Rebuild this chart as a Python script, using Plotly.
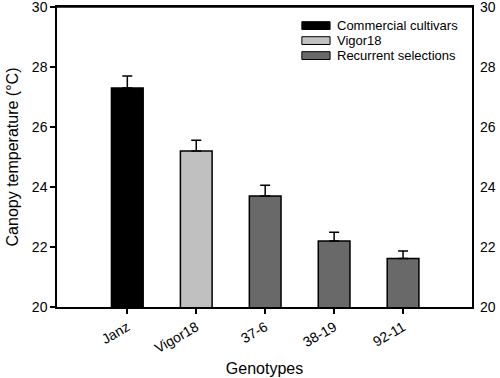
import plotly.graph_objects as go

genotypes = ["Janz", "Vigor18", "37-6", "38-19", "92-11"]
canopy_temp = [27.3, 25.2, 23.7, 22.2, 21.62]
errors = [0.4, 0.36, 0.36, 0.29, 0.25]
groups = ["Commercial cultivars", "Vigor18", "Recurrent selections",
          "Recurrent selections", "Recurrent selections"]
legend_names = ["Commercial cultivars", "Vigor18", "Recurrent selections"]
group_colors = {"Commercial cultivars": "#000000",
                "Vigor18": "#c0c0c0",
                "Recurrent selections": "#696969"}
y_ticks = [20, 22, 24, 26, 28, 30]

FONT = "Liberation Sans, Arial, Helvetica, sans-serif"
xpos = list(range(len(genotypes)))

fig = go.Figure()
fig.add_trace(go.Bar(
    x=xpos, y=canopy_temp, base=0, width=0.46,
    marker=dict(color=[group_colors[g] for g in groups],
                line=dict(color="black", width=1.5)),
    error_y=dict(type="data", array=errors, arrayminus=[0] * len(errors),
                 symmetric=False, color="black", thickness=1.5, width=5),
    showlegend=False,
))

# dummy trace on right axis to show labels
fig.add_trace(go.Scatter(x=[None], y=[None], yaxis="y2", showlegend=False))

# plot frame (top edge)
fig.add_shape(type="line", xref="paper", yref="paper", x0=0, x1=1, y0=1, y1=1,
              line=dict(color="black", width=1.5))

# manual legend
sw_x0, sw_x1 = 0.590, 0.658
row_y = [0.938, 0.888, 0.838]
for name, yy in zip(legend_names, row_y):
    fig.add_shape(type="rect", xref="paper", yref="paper",
                  x0=sw_x0, x1=sw_x1, y0=yy - 0.013, y1=yy + 0.013,
                  fillcolor=group_colors[name], line=dict(color="black", width=1))
    fig.add_annotation(xref="paper", yref="paper", x=sw_x1 + 0.013, y=yy,
                       text=name, showarrow=False, xanchor="left", yanchor="middle",
                       font=dict(family=FONT, size=13, color="black"))

fig.update_layout(
    width=500, height=378,
    margin=dict(l=57, r=28, t=7, b=71, autoexpand=False),
    plot_bgcolor="white", paper_bgcolor="white",
    font=dict(family=FONT, color="black"),
    xaxis=dict(range=[-1.02, 5.0], tickmode="array", tickvals=xpos, ticktext=genotypes,
               tickangle=-30, ticks="outside", ticklen=5, tickwidth=1.5, tickcolor="black",
               showline=True, linecolor="black", linewidth=1.5, mirror=True,
               showgrid=False, zeroline=False, tickfont=dict(size=14), automargin=False,
               title=dict(text="Genotypes", font=dict(size=16), standoff=8)),
    yaxis=dict(range=[20, 30], tickvals=y_ticks, ticks="outside", ticklen=5,
               tickwidth=1.5, tickcolor="black", showline=True, linecolor="black",
               linewidth=1.5, mirror=True, showgrid=False, zeroline=False,
               tickfont=dict(size=14), automargin=False, ticklabeloverflow="allow",
               title=dict(text="Canopy temperature (°C)", font=dict(size=16), standoff=9)),
    yaxis2=dict(range=[20, 30], tickvals=y_ticks, overlaying="y", side="right",
                showline=False, showgrid=False, zeroline=False, ticks="",
                automargin=False, ticklabeloverflow="allow",
                ticklabelstandoff=7, tickfont=dict(size=14)),
)

fig.write_html("out.html", config={"displayModeBar": False},
               post_script="document.body.style.margin='0';document.body.style.overflow='hidden';")
